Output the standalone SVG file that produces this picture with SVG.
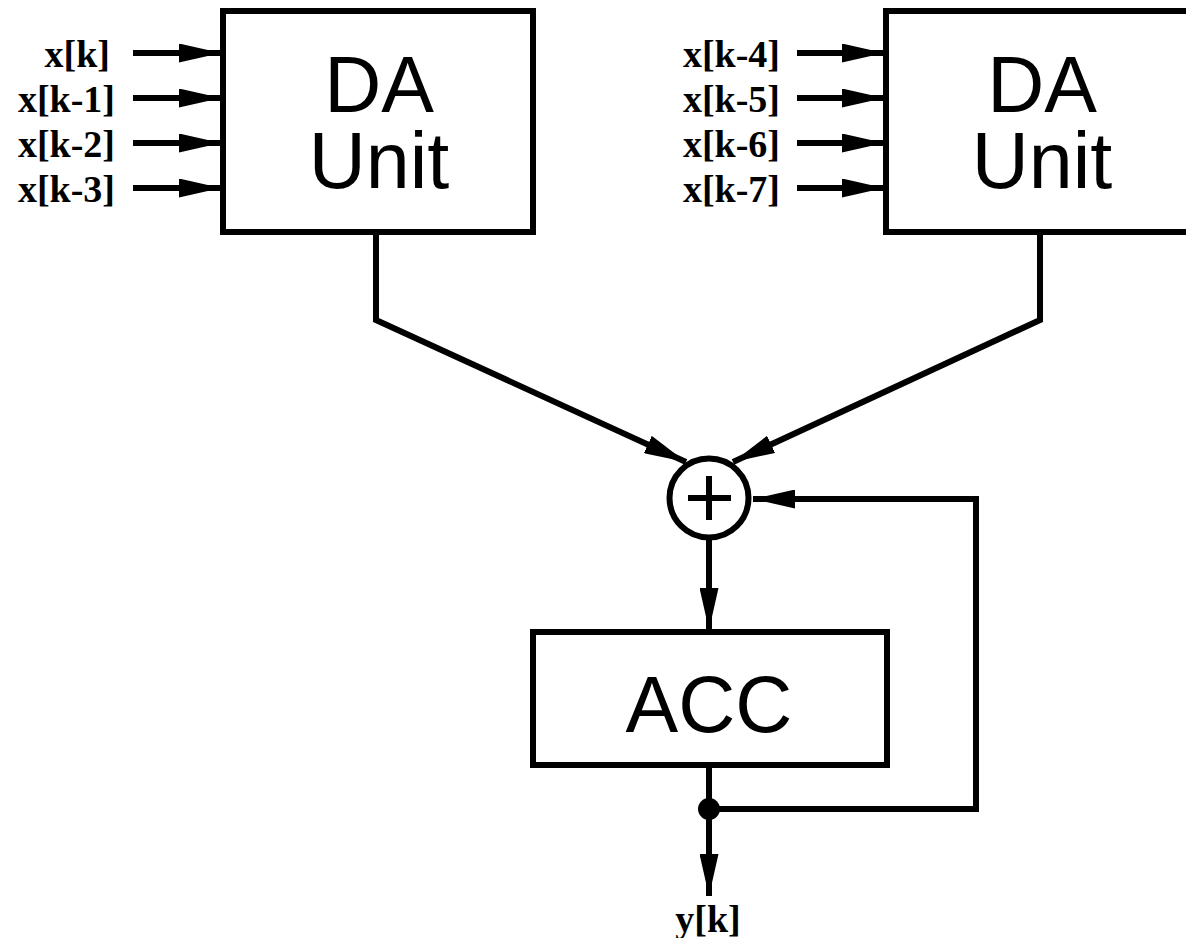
<svg xmlns="http://www.w3.org/2000/svg" width="1186" height="938" viewBox="0 0 1186 938">
<style>
.box{fill:#fff;stroke:#000;stroke-width:6}
.wire{fill:none;stroke:#000;stroke-width:6;stroke-linejoin:miter}
.big{font-family:"Liberation Sans",Arial,sans-serif;font-size:79px;fill:#000;text-anchor:middle}
.lbl{font-family:"Liberation Serif","Times New Roman",serif;font-weight:bold;font-size:38px;fill:#000}
</style>
<defs>
<marker id="ah" viewBox="0 0 42 19" refX="42" refY="9.5" markerWidth="42" markerHeight="19" markerUnits="userSpaceOnUse" orient="auto">
<path d="M0,0 L42,9.5 L0,19 Z" fill="#000"/>
</marker>
</defs>
<rect width="1186" height="938" fill="#fff"/>
<g id="connectors">
<line class="wire" x1="133" y1="53" x2="221" y2="53" marker-end="url(#ah)"/>
<line class="wire" x1="133" y1="98" x2="221" y2="98" marker-end="url(#ah)"/>
<line class="wire" x1="133" y1="143" x2="221" y2="143" marker-end="url(#ah)"/>
<line class="wire" x1="133" y1="188" x2="221" y2="188" marker-end="url(#ah)"/>
<line class="wire" x1="797" y1="53" x2="884" y2="53" marker-end="url(#ah)"/>
<line class="wire" x1="797" y1="98" x2="884" y2="98" marker-end="url(#ah)"/>
<line class="wire" x1="797" y1="143" x2="884" y2="143" marker-end="url(#ah)"/>
<line class="wire" x1="797" y1="188" x2="884" y2="188" marker-end="url(#ah)"/>
<polyline class="wire" points="376,232 376,320 686,462" marker-end="url(#ah)"/>
<polyline class="wire" points="1040,232 1040,320 733,462" marker-end="url(#ah)"/>
<line class="wire" x1="709" y1="540" x2="709" y2="630" marker-end="url(#ah)"/>
<polyline class="wire" points="709,809 976,809 976,499 753,499" marker-end="url(#ah)"/>
<line class="wire" x1="709" y1="765" x2="709" y2="896" marker-end="url(#ah)"/>
<circle cx="709" cy="809" r="11" fill="#000"/>
</g>
<g id="labels-left">
<text class="lbl" x="110" y="67" text-anchor="end">x[k]</text>
<text class="lbl" x="115" y="112" text-anchor="end">x[k-1]</text>
<text class="lbl" x="115" y="157" text-anchor="end">x[k-2]</text>
<text class="lbl" x="115" y="202" text-anchor="end">x[k-3]</text>
</g>
<g id="labels-right">
<text class="lbl" x="780" y="67" text-anchor="end">x[k-4]</text>
<text class="lbl" x="780" y="112" text-anchor="end">x[k-5]</text>
<text class="lbl" x="780" y="157" text-anchor="end">x[k-6]</text>
<text class="lbl" x="780" y="202" text-anchor="end">x[k-7]</text>
</g>
<g id="da1">
<rect class="box" x="223" y="11" width="310" height="221"/>
<text class="big" x="379" y="112">DA<tspan x="379" dy="76">Unit</tspan></text>
</g>
<g id="da2">
<rect class="box" x="886" y="11" width="312" height="221"/>
<text class="big" x="1042" y="112">DA<tspan x="1042" dy="76">Unit</tspan></text>
</g>
<g id="adder">
<circle cx="709" cy="498" r="39.5" fill="#fff" stroke="#000" stroke-width="6"/>
<path d="M688,498 H731 M709,476 V520" stroke="#000" stroke-width="6" fill="none"/>
</g>
<g id="acc">
<rect class="box" x="533" y="632" width="354" height="133"/>
<text class="big" x="709" y="732">ACC</text>
</g>
<g id="output">
<text class="lbl" x="708" y="932" text-anchor="middle">y[k]</text>
</g>
</svg>
